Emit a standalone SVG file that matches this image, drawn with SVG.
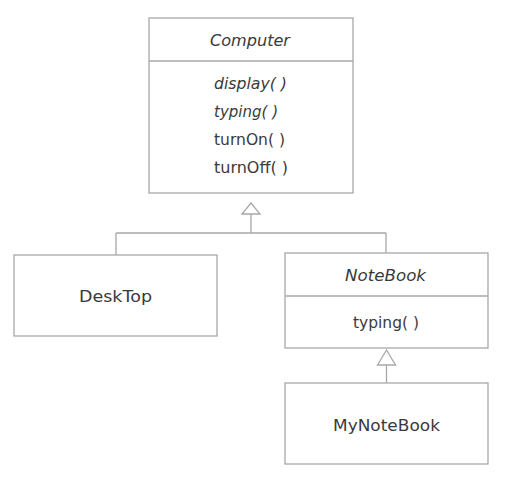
<svg xmlns="http://www.w3.org/2000/svg" width="513" height="478" viewBox="0 0 513 478">
<style>
.box{fill:#fff;stroke:#a8a8a8;stroke-width:1.3}
.ln{fill:none;stroke:#a8a8a8;stroke-width:1.3}
.tri{fill:#fff;stroke:#a8a8a8;stroke-width:1.3}
text{font-family:"DejaVu Sans","Liberation Sans",sans-serif;font-size:15px;fill:#3a3a3a}
.it{font-style:italic}
.c{text-anchor:middle}
</style>
<rect width="513" height="478" fill="#fff"/>
<g id="connectors">
<path class="ln" d="M251 214 V233 M116 233 H386 M116 233 V255 M386 233 V253"/>
<polygon class="tri" points="251,203 242,214 260,214"/>
<path class="ln" d="M386.5 365 V383"/>
<polygon class="tri" points="386.5,350 377.5,365 395.5,365"/>
</g>
<g id="Computer">
<rect class="box" x="149" y="18" width="204" height="175"/>
<line class="ln" x1="149" y1="61" x2="353" y2="61"/>
<text class="it" x="210" y="46" textLength="80" lengthAdjust="spacingAndGlyphs">Computer</text>
<text class="it" x="214" y="89" textLength="73" lengthAdjust="spacingAndGlyphs">display( )</text>
<text class="it" x="214" y="117" textLength="64" lengthAdjust="spacingAndGlyphs">typing( )</text>
<text x="214" y="145" textLength="71" lengthAdjust="spacingAndGlyphs">turnOn( )</text>
<text x="214" y="173" textLength="74" lengthAdjust="spacingAndGlyphs">turnOff( )</text>
</g>
<g id="DeskTop">
<rect class="box" x="14" y="255" width="203" height="81"/>
<text x="79" y="302" textLength="73" lengthAdjust="spacingAndGlyphs">DeskTop</text>
</g>
<g id="NoteBook">
<rect class="box" x="285" y="253" width="203" height="95"/>
<line class="ln" x1="285" y1="296" x2="488" y2="296"/>
<text class="it" x="345" y="281" textLength="81" lengthAdjust="spacingAndGlyphs">NoteBook</text>
<text x="353" y="328" textLength="66" lengthAdjust="spacingAndGlyphs">typing( )</text>
</g>
<g id="MyNoteBook">
<rect class="box" x="285" y="383" width="203" height="81"/>
<text x="333" y="431" textLength="107" lengthAdjust="spacingAndGlyphs">MyNoteBook</text>
</g>
</svg>
